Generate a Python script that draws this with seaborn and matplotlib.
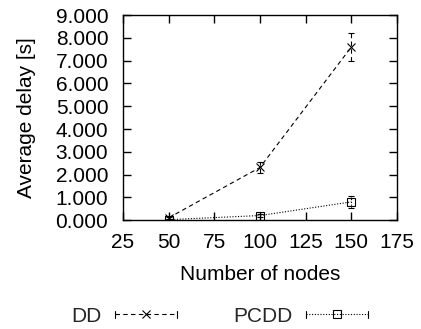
import matplotlib
matplotlib.use("Agg")
import matplotlib.pyplot as plt
import seaborn as sns
from matplotlib.lines import Line2D
from matplotlib.legend_handler import HandlerLine2D

nodes = [50, 100, 150]
dd_delay = [0.10, 2.31, 7.60]
dd_err = [0.05, 0.25, 0.60]
pcdd_delay = [0.02, 0.20, 0.80]
pcdd_err = [0.02, 0.05, 0.25]
series_names = ["DD", "PCDD"]
x_ticks = [25, 50, 75, 100, 125, 150, 175]
y_ticks = [0, 1, 2, 3, 4, 5, 6, 7, 8, 9]

sns.set_theme(style="ticks")
plt.rcParams['font.family'] = ['Liberation Sans', 'DejaVu Sans']

FS = 15


class CapHandler(HandlerLine2D):
    def create_artists(self, legend, orig_handle, xdescent, ydescent, width,
                       height, fontsize, trans):
        arts = super().create_artists(legend, orig_handle, xdescent, ydescent,
                                      width, height, fontsize, trans)
        yc = height / 2 - ydescent
        c = 2.5
        for xx in (-xdescent, -xdescent + width):
            ln = Line2D([xx, xx], [yc - c, yc + c], color="black",
                        linewidth=0.8, transform=trans)
            arts.append(ln)
        return arts


fig = plt.figure(figsize=(4.21, 3.29), dpi=100)
ax = fig.add_axes([0.292, 0.331, 0.651, 0.623])

specs = [
    (dd_delay, dd_err, (0, (4, 3)), "x"),
    (pcdd_delay, pcdd_err, (0, (1, 1.5)), "s"),
]
handles = []
for (vals, errs, ls, mk) in specs:
    sns.lineplot(x=nodes, y=vals, color="black", linestyle=ls, linewidth=0.8,
                 marker=mk, markersize=6, markerfacecolor="none",
                 markeredgecolor="black", markeredgewidth=0.8, ax=ax)
    eb = ax.errorbar(nodes, vals, yerr=errs, fmt="none", ecolor="black",
                     elinewidth=0.8, capsize=2.5, capthick=0.8)
    for c in eb[2]:
        c.set_linestyle(ls)
    handles.append(Line2D([], [], color="black", linestyle=ls, linewidth=0.8,
                          marker=mk, markersize=6, markerfacecolor="none",
                          markeredgecolor="black", markeredgewidth=0.8))

ax.set_xlim(25, 175)
ax.set_ylim(0, 9)
ax.set_xticks(x_ticks)
ax.set_yticks(y_ticks)
ax.set_yticklabels([f"{v:.3f}" for v in y_ticks])
ax.tick_params(direction="in", length=6, width=1, labelsize=FS, top=True,
               right=True, colors="black")
ax.tick_params(axis="y", pad=10.5)
ax.tick_params(axis="x", pad=9.5)
for s in ax.spines.values():
    s.set_visible(True)
    s.set_linewidth(1)
    s.set_color("black")
ax.set_xlabel("Number of nodes", fontsize=FS, labelpad=9, color="black")
ax.set_ylabel("Average delay [s]", fontsize=FS, labelpad=14, color="black")

fig.legend(handles, series_names, loc="center", bbox_to_anchor=(0.5226, 0.0395),
           ncol=2, frameon=False, markerfirst=False, fontsize=FS,
           handlelength=3.0, columnspacing=2.7, handletextpad=0.62,
           numpoints=1, borderpad=0, borderaxespad=0,
           handler_map={Line2D: CapHandler(numpoints=1)})

fig.savefig("out.png", dpi=100)
